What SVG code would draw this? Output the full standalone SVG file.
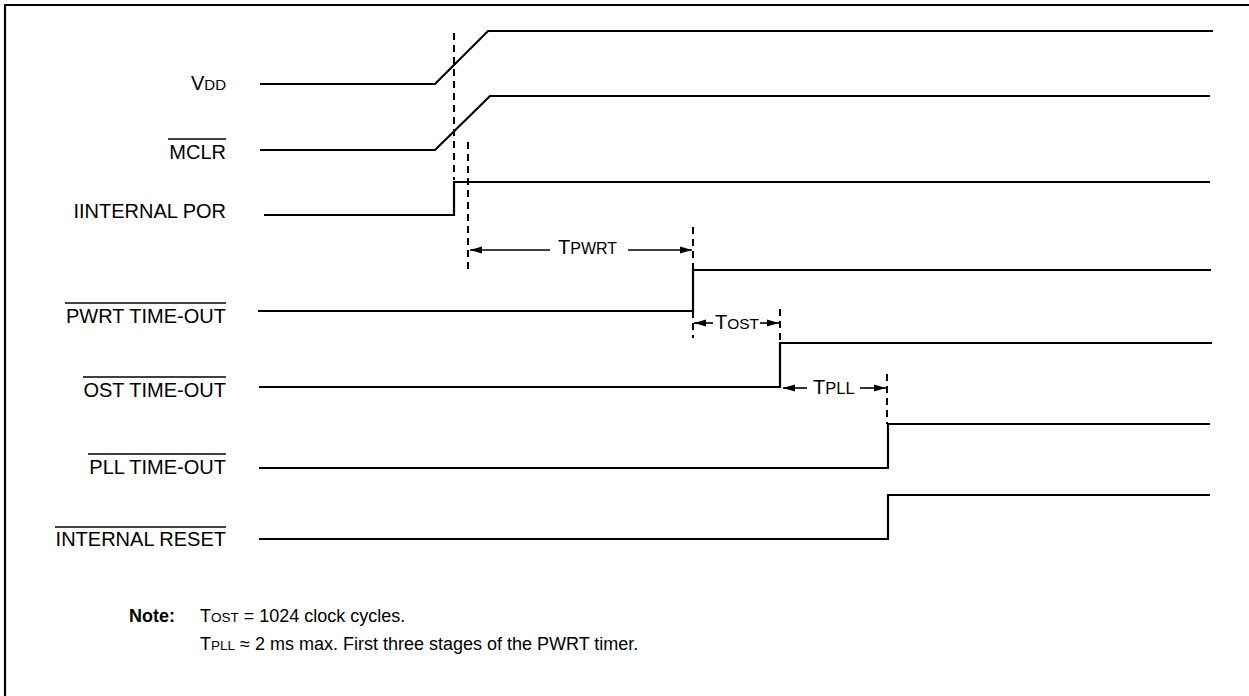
<svg xmlns="http://www.w3.org/2000/svg" width="1249" height="696" viewBox="0 0 1249 696">
<style>
.lbl{font-family:"Liberation Sans",Arial,sans-serif;font-size:20px;fill:#000;text-anchor:end}
.tl{font-family:"Liberation Sans",Arial,sans-serif;font-size:20px;fill:#000}
.note{font-family:"Liberation Sans",Arial,sans-serif;font-size:18px;fill:#000}
.sig{fill:none;stroke:#000;stroke-width:2.2;stroke-linejoin:miter}
.ov{stroke:#000;stroke-width:1.6}
.dash{stroke:#000;stroke-width:2;stroke-dasharray:7 5;fill:none}
.dim{stroke:#000;stroke-width:1.6;fill:none}
</style>
<defs>
<marker id="ah" markerWidth="13" markerHeight="8" refX="12" refY="4" orient="auto-start-reverse" markerUnits="userSpaceOnUse">
<path d="M0,0.5 L12,4 L0,7.5 Z" fill="#000"/>
</marker>
</defs>
<rect width="1249" height="696" fill="#fff"/>
<g id="frame">
<path d="M1249,5 H5 V696" fill="none" stroke="#000" stroke-width="2.2"/>
</g>
<g id="vdd">
<text class="lbl" x="226" y="90">V<tspan font-size="15">DD</tspan></text>
<path class="sig" d="M260,84 H435 L488,31 H1213"/>
</g>
<g id="mclr">
<text class="lbl" x="226" y="159">MCLR</text>
<line class="ov" x1="168" y1="139" x2="226" y2="139"/>
<path class="sig" d="M260,150 H435 L490,96 H1210"/>
</g>
<g id="internal-por">
<text class="lbl" x="226" y="218">IINTERNAL POR</text>
<path class="sig" d="M264,215 H454 V182 H1210"/>
</g>
<g id="pwrt-timeout">
<text class="lbl" x="226" y="323">PWRT TIME-OUT</text>
<line class="ov" x1="65" y1="303" x2="226" y2="303"/>
<path class="sig" d="M258,311 H693 V270 H1211"/>
</g>
<g id="ost-timeout">
<text class="lbl" x="226" y="397">OST TIME-OUT</text>
<line class="ov" x1="83" y1="377" x2="226" y2="377"/>
<path class="sig" d="M259,387 H780 V343 H1212"/>
</g>
<g id="pll-timeout">
<text class="lbl" x="226" y="474">PLL TIME-OUT</text>
<line class="ov" x1="88" y1="454" x2="226" y2="454"/>
<path class="sig" d="M259,468 H888 V424 H1210"/>
</g>
<g id="internal-reset">
<text class="lbl" x="226" y="546">INTERNAL RESET</text>
<line class="ov" x1="55" y1="527" x2="226" y2="527"/>
<path class="sig" d="M259,539 H888 V495 H1210"/>
</g>
<g id="connectors">
<line class="dash" x1="454" y1="33" x2="454" y2="180"/>
<line class="dash" x1="468" y1="142" x2="468" y2="272"/>
<line class="dash" x1="693" y1="227" x2="693" y2="338"/>
<line class="dash" x1="780" y1="309" x2="780" y2="343"/>
<line class="dash" x1="887" y1="374" x2="887" y2="424"/>
<line class="dim" x1="550" y1="250" x2="470" y2="250" marker-end="url(#ah)"/>
<line class="dim" x1="628" y1="250" x2="692" y2="250" marker-end="url(#ah)"/>
<line class="dim" x1="713" y1="323" x2="694" y2="323" marker-end="url(#ah)"/>
<line class="dim" x1="760" y1="323" x2="779" y2="323" marker-end="url(#ah)"/>
<line class="dim" x1="807" y1="388" x2="783" y2="388" marker-end="url(#ah)"/>
<line class="dim" x1="860" y1="388" x2="886" y2="388" marker-end="url(#ah)"/>
</g>
<g id="timing-labels">
<text class="tl" x="558" y="254">T<tspan font-size="16">PWRT</tspan></text>
<text class="tl" x="715" y="329" font-size="18">T<tspan font-size="15.5">OST</tspan></text>
<text class="tl" x="813" y="394" font-size="18">T<tspan font-size="16.5">PLL</tspan></text>
</g>
<g id="note">
<text class="note" x="129" y="622" font-weight="bold">Note:</text>
<text class="note" x="200" y="622">T<tspan font-size="13.5">OST</tspan> = 1024 clock cycles.</text>
<text class="note" x="200" y="650">T<tspan font-size="13.5">PLL</tspan> ≈ 2 ms max. First three stages of the PWRT timer.</text>
</g>
</svg>
